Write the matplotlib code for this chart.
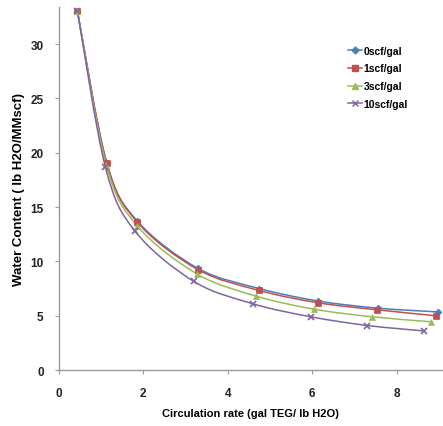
import matplotlib
matplotlib.use("Agg")
import matplotlib.pyplot as plt
import numpy as np
from matplotlib.path import Path
from matplotlib.patches import PathPatch

plt.rcParams['font.family'] = ['Liberation Sans', 'DejaVu Sans']
plt.rcParams['font.weight'] = 'bold'

# Dados
series_labels = ["0scf/gal", "1scf/gal", "3scf/gal", "10scf/gal"]
x_0scf = [0.44, 1.13, 1.86, 3.30, 4.75, 6.15, 7.55, 8.98]
y_0scf = [33.0, 19.1, 13.7, 9.35, 7.5, 6.35, 5.7, 5.35]
x_1scf = [0.44, 1.13, 1.86, 3.29, 4.73, 6.13, 7.53, 8.93]
y_1scf = [33.0, 19.1, 13.6, 9.25, 7.34, 6.2, 5.55, 5.0]
x_3scf = [0.44, 1.12, 1.85, 3.27, 4.68, 6.05, 7.43, 8.81]
y_3scf = [33.0, 18.9, 13.3, 8.85, 6.8, 5.6, 4.9, 4.45]
x_10scf = [0.44, 1.10, 1.80, 3.20, 4.60, 5.97, 7.31, 8.65]
y_10scf = [33.0, 18.7, 12.8, 8.15, 6.1, 4.9, 4.1, 3.6]

cores = ["#4a7ebb", "#c0504d", "#9bbb59", "#8064a2"]
marcadores = ["D", "s", "^", "x"]
tamanhos = [3.5, 5, 5, 5]


def curva_suave(x, y):
    # curva de Bezier estilo Excel (Catmull-Rom)
    x = np.asarray(x, float)
    y = np.asarray(y, float)
    pts = np.column_stack([x, y])
    verts = [pts[0]]
    codes = [Path.MOVETO]
    t = 1.0 / 6.0
    for i in range(len(pts) - 1):
        p0 = pts[i - 1] if i > 0 else pts[i]
        p1 = pts[i]
        p2 = pts[i + 1]
        p3 = pts[i + 2] if i + 2 < len(pts) else pts[i + 1]
        c1 = p1 + (p2 - p0) * t
        c2 = p2 - (p3 - p1) * t
        verts += [c1, c2, p2]
        codes += [Path.CURVE4] * 3
    return Path(verts, codes)


fig = plt.figure(figsize=(4.43, 4.27), dpi=100)
ax = fig.add_axes([0.133, 0.131, 0.865, 0.85])

dados = [(x_0scf, y_0scf), (x_1scf, y_1scf), (x_3scf, y_3scf), (x_10scf, y_10scf)]
for (xs, ys), cor, m, ms, lab in zip(dados, cores, marcadores, tamanhos, series_labels):
    ax.add_patch(PathPatch(curva_suave(xs, ys), facecolor="none", edgecolor=cor, lw=1.1))
    ax.plot(xs, ys, linestyle="none", marker=m, color=cor, markersize=ms,
            markeredgewidth=1.2 if m == "x" else 0.5)
    ax.plot([], [], color=cor, marker=m, markersize=ms, lw=1.1, label=lab)

ax.set_xlim(0, 9.08)
ax.set_ylim(0, 33.4)
ax.set_xticks([0, 2, 4, 6, 8])
ax.set_yticks([0, 5, 10, 15, 20, 25, 30])

for s in ["top", "right"]:
    ax.spines[s].set_visible(False)
for s in ["left", "bottom"]:
    ax.spines[s].set_color("#999999")
    ax.spines[s].set_linewidth(1.0)
ax.tick_params(colors="#999999", labelcolor="#222222", labelsize=8.5, length=3, width=0.8)
ax.tick_params(axis="x", pad=9)
ax.tick_params(axis="y", pad=8)

ax.set_xlabel("Circulation rate (gal TEG/ lb H2O)", fontsize=8, fontweight="bold", labelpad=7)
ax.set_ylabel("Water Content ( lb H2O/MMscf)", fontsize=9.5, fontweight="bold", labelpad=4)

ax.legend(loc="upper left", bbox_to_anchor=(0.73, 0.92), frameon=False, fontsize=7.5,
          handlelength=1.3, handletextpad=0.2, labelspacing=0.75)

fig.savefig("out.png", dpi=100)
